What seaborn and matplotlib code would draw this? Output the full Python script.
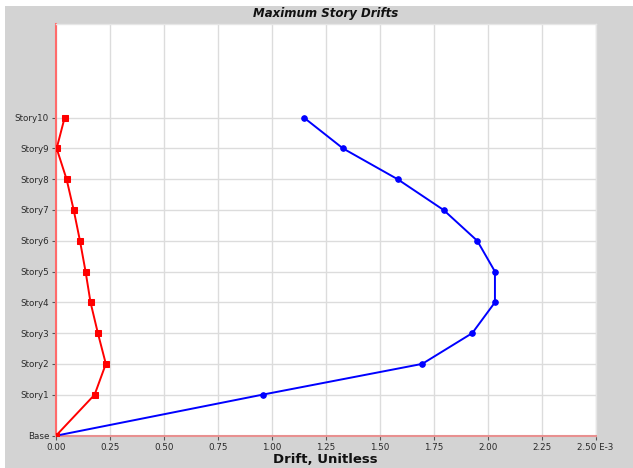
import matplotlib
matplotlib.use("Agg")
import matplotlib.pyplot as plt
import seaborn as sns
import pandas as pd
from matplotlib.patches import Rectangle

stories = ["Base", "Story1", "Story2", "Story3", "Story4", "Story5",
           "Story6", "Story7", "Story8", "Story9", "Story10"]
elevations = [0, 4, 7, 10, 13, 16, 19, 22, 25, 28, 31]
drift_x = [0.0, 0.957, 1.697, 1.929, 2.034, 2.034, 1.952, 1.796, 1.583, 1.330, 1.149]
drift_y = [0.0, 0.179, 0.231, 0.194, 0.160, 0.137, 0.111, 0.082, 0.049, 0.003, 0.040]
x_ticks = [0.0, 0.25, 0.5, 0.75, 1.0, 1.25, 1.5, 1.75, 2.0, 2.25, 2.5]
x_tick_labels = ["0.00", "0.25", "0.50", "0.75", "1.00", "1.25", "1.50",
                 "1.75", "2.00", "2.25", "2.50 E-3"]

df = pd.DataFrame({
    "story": stories * 2,
    "elev": elevations * 2,
    "drift": drift_x + drift_y,
    "dir": ["X"] * len(stories) + ["Y"] * len(stories),
})

sns.set_style("white")
plt.rcParams["font.family"] = ["DejaVu Sans"]

W, H = 633, 468
fig = plt.figure(figsize=(W / 100, H / 100), dpi=100, facecolor="white")
fig.patches.append(Rectangle((5 / W, 0), 1, 1 - 6 / H, transform=fig.transFigure,
                             facecolor="#d3d3d3", edgecolor="none", zorder=-10))

left, right, top, bottom = 56, 595.5, 24.3, 435.7
ax = fig.add_axes([left / W, (H - bottom) / H, (right - left) / W, (bottom - top) / H])
ax.set_facecolor("white")

sns.lineplot(data=df[df["dir"] == "X"], x="drift", y="elev", sort=False, estimator=None,
             color="#0000ff", marker="o", markersize=4, markeredgecolor="#0000ff",
             linewidth=1.4, ax=ax, zorder=3)
sns.lineplot(data=df[df["dir"] == "Y"], x="drift", y="elev", sort=False, estimator=None,
             color="#ff0000", marker="s", markersize=4, markeredgecolor="#ff0000",
             linewidth=1.4, ax=ax, zorder=4)

ax.set_xlim(0, 2.5)
ax.set_ylim(0, 40.1)
ax.set_xticks(x_ticks)
ax.set_xticklabels(x_tick_labels)
ax.set_yticks(elevations)
ax.set_yticklabels(stories)
ax.grid(True, color="#dcdcdc", linewidth=1.0)
ax.set_axisbelow(True)

for lab in ax.get_xticklabels() + ax.get_yticklabels():
    lab.set_fontsize(6.3)
    lab.set_color("#2a2a2a")
ax.tick_params(axis="both", which="major", direction="out", length=3, width=0.8,
               color="#555555", pad=2, bottom=True, left=True)

ax.spines["left"].set_color("#ff6b6b")
ax.spines["left"].set_linewidth(1.5)
ax.spines["bottom"].set_color("#e89090")
ax.spines["bottom"].set_linewidth(1.5)
for s in ["top", "right"]:
    ax.spines[s].set_color("#e6e6e6")
    ax.spines[s].set_linewidth(1.0)

ax.set_xlabel("")
ax.set_ylabel("")
fig.text((left + right) / 2 / W, 1 - 459.5 / H, "Drift, Unitless", ha="center", va="center",
         fontsize=9.5, fontweight="bold", color="#111111")
fig.text((left + right) / 2 / W, 1 - 14 / H, "Maximum Story Drifts", ha="center", va="center",
         fontsize=8.5, fontweight="bold", fontstyle="italic", color="#111111")

fig.savefig("out.png", dpi=100, facecolor=fig.get_facecolor())
